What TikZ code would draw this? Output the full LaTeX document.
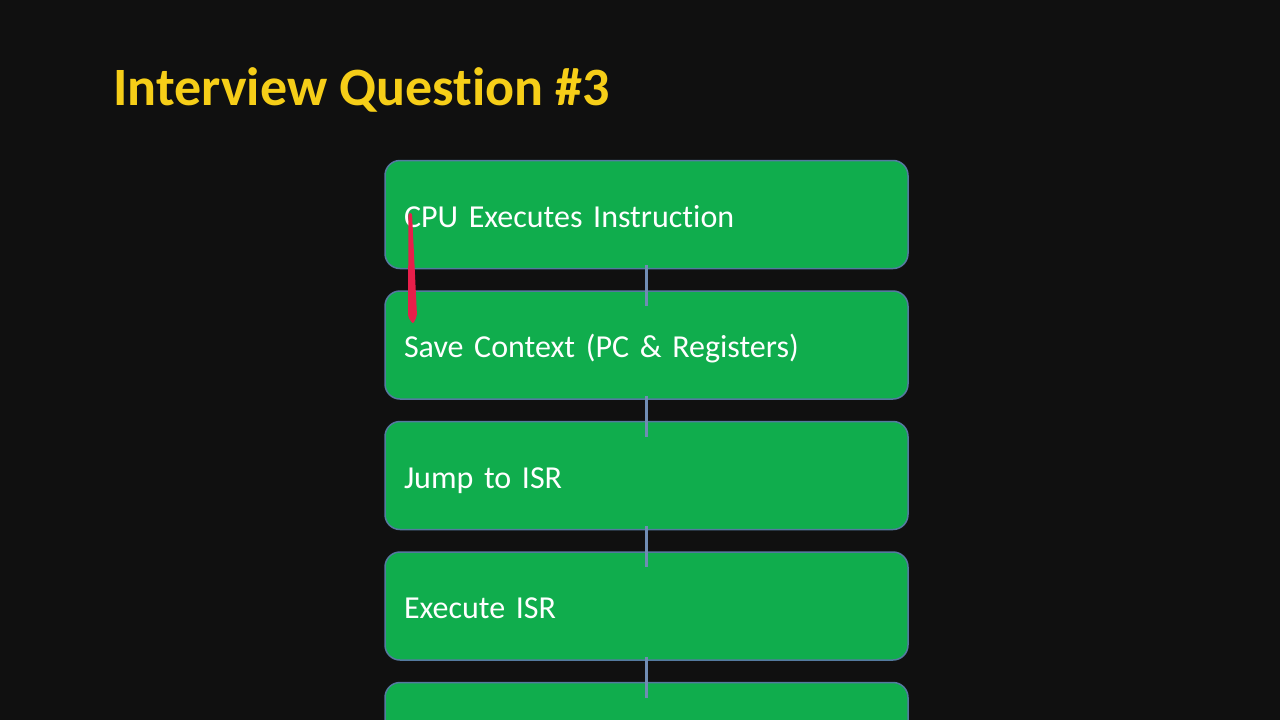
\documentclass[tikz,border=0pt]{standalone}
\usepackage{fontspec}
\setmainfont[Ligatures=NoCommon]{Carlito}
\usetikzlibrary{positioning, calc}
\definecolor{bgdark}{RGB}{16,16,16}
\definecolor{boxgreen}{RGB}{16,173,77}
\definecolor{boxedge}{RGB}{84,122,160}
\definecolor{linkblue}{RGB}{112,140,180}
\definecolor{titleyellow}{RGB}{246,206,24}
\definecolor{penred}{RGB}{232,30,74}
\tikzstyle{stage}=[%
      rectangle, rounded corners=15pt, draw=boxedge, line width=1.5pt, fill=boxgreen,
      text=white, minimum height=108pt, minimum width=523pt, text width=485pt,
      text height=25pt, text depth=0pt,
      inner xsep=19pt, align=left, font=\fontsize{32}{38}\selectfont
]
\tikzstyle{link}=[%
      draw=linkblue, line width=2.5pt, shorten <=-4pt, shorten >=-16pt
]

\begin{document}
\begin{tikzpicture}[x=1pt, y=-1pt]
    \fill[bgdark] (0,0) rectangle (1280,720);
    \useasboundingbox (0,0) rectangle (1280,720);

    \node[anchor=west, text=titleyellow, font=\fontsize{54}{60}\selectfont\bfseries] (title) at (110,90) {Interview Question \#3};

    \node[stage]   (cpu)     at (646.5,214.5)      {CPU Executes Instruction};
    \node[stage]   (save)    [below = 21pt of cpu]  {Save Context (PC \& Registers)};
    \node[stage]   (jump)    [below = 21pt of save] {Jump to ISR};
    \node[stage]   (exec)    [below = 21pt of jump] {Execute ISR};
    \node[stage]   (restore) [below = 21pt of exec] {};

    \path[link] (cpu)  -- (save);
    \path[link] (save) -- (jump);
    \path[link] (jump) -- (exec);
    \path[link] (exec) -- (restore);

    % pen mark over the slide
    \fill[penred, rounded corners=2pt] (408.5,213) -- (412,213) -- (417,316) -- (413,324) -- (408,317) -- cycle;
\end{tikzpicture}
\end{document}
